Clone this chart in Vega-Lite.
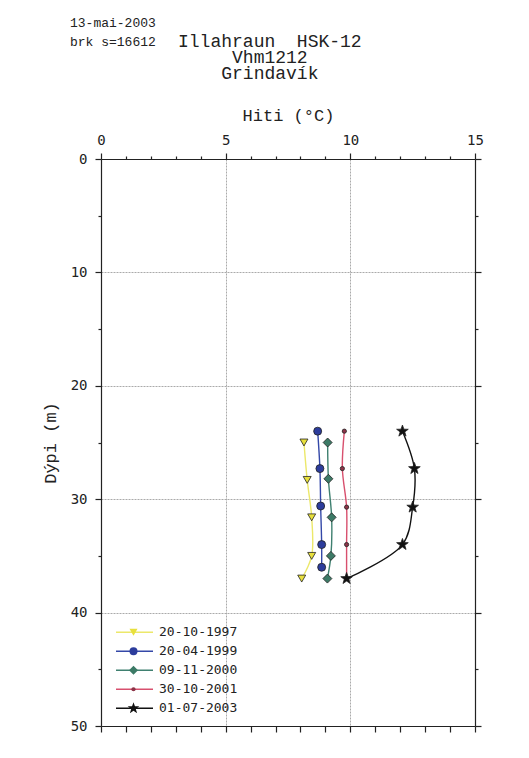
{
  "$schema": "https://vega.github.io/schema/vega-lite/v6.json",
  "width": 374,
  "height": 567,
  "autosize": {"type": "none"},
  "padding": {"left": 101, "top": 159, "right": 54, "bottom": 32},
  "background": "white",
  "config": {
    "view": {"stroke": null},
    "axis": {
      "domainColor": "#222",
      "domainWidth": 1.2,
      "tickColor": "#222",
      "tickWidth": 1.2,
      "labelColor": "#222",
      "labelFont": "DejaVu Sans Mono",
      "labelFontSize": 14,
      "titleFont": "Liberation Mono",
      "titleFontSize": 17,
      "titleFontWeight": "normal",
      "titleColor": "#222",
      "gridColor": "#aaaaaa",
      "gridDash": [2, 1],
      "gridWidth": 1
    }
  },
  "title": {
    "text": ["13-mai-2003", "brk s=16612"],
    "subtitle": [
      "\u200b\u00a0\u00a0\u00a0\u00a0\u00a0\u00a0\u00a0\u00a0\u00a0\u00a0Illahraun\u00a0\u00a0HSK-12",
      "\u200b\u00a0\u00a0\u00a0\u00a0\u00a0\u00a0\u00a0\u00a0\u00a0\u00a0\u00a0\u00a0\u00a0\u00a0\u00a0Vhm1212",
      "\u200b\u00a0\u00a0\u00a0\u00a0\u00a0\u00a0\u00a0\u00a0\u00a0\u00a0\u00a0\u00a0\u00a0\u00a0Grindavík"
    ],
    "anchor": "start",
    "frame": "group",
    "dx": -31,
    "offset": 23,
    "font": "Liberation Mono",
    "fontSize": 13,
    "fontWeight": "normal",
    "lineHeight": 19,
    "color": "#222",
    "subtitleFont": "Liberation Mono",
    "subtitleFontSize": 18,
    "subtitleLineHeight": 16,
    "subtitleColor": "#222",
    "subtitlePadding": -16
  },
  "data": {
    "values": [
      {"date": "20-10-1997", "series": "20-10-1997", "temp": 8.14, "depth": 25.0},
      {"date": "20-10-1997", "series": "20-10-1997", "temp": 8.27, "depth": 28.3},
      {"date": "20-10-1997", "series": "20-10-1997", "temp": 8.45, "depth": 31.6},
      {"date": "20-10-1997", "series": "20-10-1997", "temp": 8.45, "depth": 35.0},
      {"date": "20-10-1997", "series": "20-10-1997", "temp": 8.05, "depth": 37.0},
      {"date": "20-04-1999", "series": "20-04-1999", "temp": 8.69, "depth": 24.0},
      {"date": "20-04-1999", "series": "20-04-1999", "temp": 8.78, "depth": 27.3},
      {"date": "20-04-1999", "series": "20-04-1999", "temp": 8.81, "depth": 30.6},
      {"date": "20-04-1999", "series": "20-04-1999", "temp": 8.85, "depth": 34.0},
      {"date": "20-04-1999", "series": "20-04-1999", "temp": 8.85, "depth": 36.0},
      {"date": "09-11-2000", "series": "09-11-2000", "temp": 9.09, "depth": 25.0},
      {"date": "09-11-2000", "series": "09-11-2000", "temp": 9.12, "depth": 28.2},
      {"date": "09-11-2000", "series": "09-11-2000", "temp": 9.25, "depth": 31.6},
      {"date": "09-11-2000", "series": "09-11-2000", "temp": 9.22, "depth": 35.0},
      {"date": "09-11-2000", "series": "09-11-2000", "temp": 9.08, "depth": 37.0},
      {"date": "30-10-2001", "series": "30-10-2001", "temp": 9.76, "depth": 24.0},
      {"date": "30-10-2001", "series": "30-10-2001", "temp": 9.68, "depth": 27.3},
      {"date": "30-10-2001", "series": "30-10-2001", "temp": 9.85, "depth": 30.7},
      {"date": "30-10-2001", "series": "30-10-2001", "temp": 9.85, "depth": 34.0},
      {"date": "30-10-2001", "series": "30-10-2001", "temp": 9.85, "depth": 37.0},
      {"date": "01-07-2003", "series": "01-07-2003", "temp": 12.09, "depth": 24.0},
      {"date": "01-07-2003", "series": "01-07-2003", "temp": 12.57, "depth": 27.3},
      {"date": "01-07-2003", "series": "01-07-2003", "temp": 12.5, "depth": 30.7},
      {"date": "01-07-2003", "series": "01-07-2003", "temp": 12.09, "depth": 34.0},
      {"date": "01-07-2003", "series": "01-07-2003", "temp": 9.85, "depth": 37.0}
    ]
  },
  "resolve": {"axis": {"x": "independent", "y": "independent"}},
  "layer": [
    {
      "mark": {"type": "line", "interpolate": "catmull-rom", "strokeWidth": 1.4},
      "encoding": {
        "x": {
          "field": "temp", "type": "quantitative",
          "scale": {"domain": [0, 15], "nice": false, "zero": false},
          "axis": {
            "orient": "top",
            "values": [0,1,2,3,4,5,6,7,8,9,10,11,12,13,14,15],
            "title": "Hiti (°C)",
            "titlePadding": 9,
            "labelExpr": "datum.value % 5 === 0 ? datum.label : ''",
            "labelPadding": 6,
            "labelFlush": false,
            "labelOverlap": false,
            "tickSize": {"condition": {"test": "datum.value % 5 === 0", "value": 6}, "value": 3},
            "grid": true,
            "gridOpacity": {"condition": {"test": "datum.value % 5 === 0 && datum.value > 0 && datum.value < 15", "value": 1}, "value": 0}
          }
        },
        "y": {
          "field": "depth", "type": "quantitative",
          "scale": {"domain": [0, 50], "reverse": true, "nice": false, "zero": false},
          "axis": {
            "orient": "left",
            "values": [0,5,10,15,20,25,30,35,40,45,50],
            "title": "Dýpi (m)",
            "titlePadding": 11,
            "labelExpr": "datum.value % 10 === 0 ? datum.label : ''",
            "labelPadding": 8,
            "labelFlush": false,
            "labelOverlap": false,
            "tickSize": {"condition": {"test": "datum.value % 10 === 0", "value": 6}, "value": 3},
            "grid": true,
            "gridOpacity": {"condition": {"test": "datum.value % 10 === 0 && datum.value > 0 && datum.value < 50", "value": 1}, "value": 0}
          }
        },
        "color": {
          "field": "date", "type": "nominal",
          "sort": ["20-10-1997", "20-04-1999", "09-11-2000", "30-10-2001", "01-07-2003"],
          "scale": {
            "range": ["#ece86a", "#3448a8", "#3f8070", "#d8506e", "#111111"]
          },
          "legend": {
            "title": null,
            "orient": "none",
            "legendX": 14,
            "legendY": 464,
            "padding": 0,
            "symbolType": "stroke",
            "symbolSize": 1369,
            "symbolStrokeWidth": 1.5,
            "clipHeight": 18.5,
            "rowPadding": 0,
            "labelFont": "DejaVu Sans Mono",
            "labelFontSize": 13,
            "labelColor": "#222",
            "labelOffset": 5
          }
        },
        "order": {"field": "depth", "type": "quantitative"}
      }
    },
    {
      "mark": {"type": "point", "filled": true, "stroke": "#222", "strokeWidth": 0.8, "opacity": 1},
      "encoding": {
        "x": {
          "field": "temp", "type": "quantitative",
          "axis": {
            "orient": "bottom",
            "values": [0,1,2,3,4,5,6,7,8,9,10,11,12,13,14,15],
            "title": null,
            "labels": false,
            "tickSize": 6,
            "grid": false
          }
        },
        "y": {
          "field": "depth", "type": "quantitative",
          "axis": {
            "orient": "right",
            "values": [0,5,10,15,20,25,30,35,40,45,50],
            "title": null,
            "labels": false,
            "tickSize": {"condition": {"test": "datum.value % 10 === 0", "value": 6}, "value": 3},
            "grid": false
          }
        },
        "fill": {
          "field": "series", "type": "nominal",
          "scale": {
            "domain": ["20-10-1997", "20-04-1999", "09-11-2000", "30-10-2001", "01-07-2003"],
            "range": ["#e8e03c", "#2c3c9c", "#3c7a66", "#8c3448", "#111111"]
          },
          "legend": {
            "title": null, "orient": "none", "legendX": 25.5, "legendY": 464, "padding": 0,
            "clipHeight": 18.5, "rowPadding": 0, "labelOpacity": 0, "labelExpr": "''",
            "symbolStrokeColor": "#222", "symbolStrokeWidth": 0.8
          }
        },
        "shape": {
          "field": "series", "type": "nominal",
          "scale": {
            "domain": ["20-10-1997", "20-04-1999", "09-11-2000", "30-10-2001", "01-07-2003"],
            "range": ["triangle-down", "circle", "diamond", "circle", "M0,-1L0.235,-0.324L0.951,-0.309L0.38,0.124L0.588,0.809L0,0.4L-0.588,0.809L-0.38,0.124L-0.951,-0.309L-0.235,-0.324Z"]
          },
          "legend": {
            "title": null, "orient": "none", "legendX": 25.5, "legendY": 464, "padding": 0,
            "clipHeight": 18.5, "rowPadding": 0, "labelOpacity": 0, "labelExpr": "''",
            "symbolStrokeColor": "#222", "symbolStrokeWidth": 0.8
          }
        },
        "size": {
          "field": "series", "type": "nominal",
          "scale": {
            "type": "ordinal",
            "domain": ["20-10-1997", "20-04-1999", "09-11-2000", "30-10-2001", "01-07-2003"],
            "range": [64, 64, 81, 18, 150]
          },
          "legend": {
            "title": null, "orient": "none", "legendX": 25.5, "legendY": 464, "padding": 0,
            "clipHeight": 18.5, "rowPadding": 0, "labelOpacity": 0, "labelExpr": "''",
            "symbolStrokeColor": "#222", "symbolStrokeWidth": 0.8
          }
        }
      }
    }
  ]
}
